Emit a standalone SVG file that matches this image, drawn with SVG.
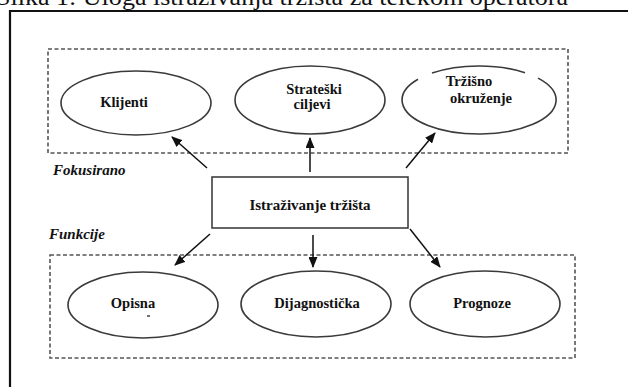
<svg xmlns="http://www.w3.org/2000/svg" width="628" height="387" viewBox="0 0 628 387">
<style>
text{font-family:'Liberation Serif','Times New Roman',serif}
.t{font-weight:bold;font-size:14.5px;fill:#111;text-anchor:middle}
.lab{font-weight:bold;font-style:italic;font-size:15px;fill:#111}
.ell{fill:none;stroke:#3a3a3a;stroke-width:1.6}
.grp{fill:none;stroke:#555;stroke-width:1.6;stroke-dasharray:4 2.5}
.con{stroke:#111;stroke-width:1.5;fill:none;marker-end:url(#ah)}
</style>
<defs>
<marker id="ah" markerUnits="userSpaceOnUse" markerWidth="11" markerHeight="9" refX="10" refY="4.5" orient="auto">
<path d="M0,0 L11,4.5 L0,9 Z" fill="#111"/>
</marker>
</defs>
<rect width="628" height="387" fill="#fff"/>
<text x="-4" y="5" font-size="24" fill="#111" textLength="572" lengthAdjust="spacingAndGlyphs">Slika 1: Uloga istraživanja tržišta za telekom operatora</text>
<path d="M10,387 V11 H628" fill="none" stroke="#111" stroke-width="2.2"/>
<rect id="fokusirano-box" class="grp" x="48" y="49" width="520" height="104"/>
<rect id="funkcije-box" class="grp" x="50" y="255" width="525" height="103"/>
<text class="lab" x="53" y="175">Fokusirano</text>
<text class="lab" x="49" y="239">Funkcije</text>
<g id="klijenti">
<ellipse class="ell" cx="136" cy="103" rx="75" ry="32"/>
<text class="t" x="124" y="107">Klijenti</text>
</g>
<g id="strateski-ciljevi">
<ellipse class="ell" cx="310" cy="100" rx="75" ry="34"/>
<text class="t" x="314" y="94">Strateški</text>
<text class="t" x="312" y="109">ciljevi</text>
</g>
<g id="trzisno-okruzenje">
<path class="ell" d="M432,73.1 A77,34 0 0 1 525,72.7 M538,78.1 A77,34 0 1 1 418,79.3"/>
<text class="t" x="469" y="86">Tržišno</text>
<text class="t" x="481" y="103">okruženje</text>
</g>
<g id="istrazivanje-trzista">
<rect x="212" y="177" width="196" height="51" fill="#fff" stroke="#333" stroke-width="1.5"/>
<text class="t" x="310" y="210" style="font-size:15px">Istraživanje tržišta</text>
</g>
<g id="opisna">
<ellipse class="ell" cx="143" cy="305" rx="75" ry="33"/>
<text class="t" x="133" y="308">Opisna</text>
<line x1="147" y1="316" x2="150" y2="316" stroke="#111" stroke-width="1.2"/>
</g>
<g id="dijagnosticka">
<ellipse class="ell" cx="316" cy="304" rx="75" ry="33"/>
<text class="t" x="317" y="308">Dijagnostička</text>
</g>
<g id="prognoze">
<ellipse class="ell" cx="485" cy="304" rx="75" ry="33"/>
<text class="t" x="482" y="308">Prognoze</text>
</g>
<g id="connectors">
<line class="con" x1="207" y1="168" x2="172" y2="137"/>
<line class="con" x1="310" y1="172" x2="310" y2="138"/>
<line class="con" x1="406" y1="168" x2="435" y2="133"/>
<line class="con" x1="210" y1="234" x2="175" y2="265"/>
<line class="con" x1="313" y1="235" x2="313" y2="267"/>
<line class="con" x1="410" y1="229" x2="440" y2="267"/>
</g>
</svg>
